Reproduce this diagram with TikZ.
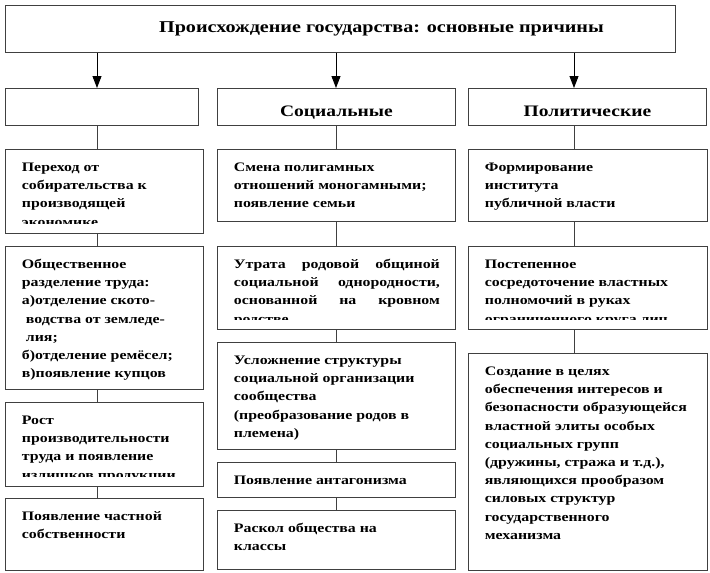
\documentclass[tikz,border=0pt]{standalone}
\usepackage{fontspec}
\setmainfont{Liberation Serif}[FakeStretch=1.22]
\usetikzlibrary{arrows.meta, calc}

\begin{document}
\begin{tikzpicture}[x=1pt, y=-1pt, >={Triangle[length=12pt, width=9pt]},
    box/.style={draw=black!75, line width=0.9pt, anchor=north west, inner sep=0pt},
    cell/.style={box, path picture={
        \clip ([yshift=9.5pt]path picture bounding box.south west) rectangle (path picture bounding box.north east);
        \node [anchor=north west, align=left, inner sep=0pt, draw=none, minimum width=0pt, minimum height=0pt, font=\fontsize{13pt}{18.2pt}\selectfont\bfseries]
            at ([xshift=16pt, yshift=-11.5pt]path picture bounding box.north west) {\rule{0pt}{10pt}#1};}},
    head/.style={box, font=\fontsize{16pt}{19pt}\selectfont\bfseries, text height=20pt, text depth=0pt},
    link/.style={draw=black!75, line width=0.9pt},
    feed/.style={->, draw=black, line width=0.9pt}]
    \useasboundingbox (0,0) rectangle (710,573);

    \node [box, minimum width=670pt, minimum height=47pt, font=\fontsize{16.5pt}{20pt}\selectfont\bfseries] (origin) at (5,5) {\hspace*{82pt}Происхождение государства: основные причины};

    \node [head, minimum width=193pt, minimum height=37pt] (lhead) at (5,88) {};
    \node [head, minimum width=238pt, minimum height=37pt] (shead) at (217,88) {Социальные};
    \node [head, minimum width=238pt, minimum height=37pt] (phead) at (468,88) {Политические};

    % left column
    \node [cell={Переход от\\собирательства к\\производящей\\экономике}, minimum width=198pt, minimum height=84pt] (econ1) at (5,149) {};
    \node [cell={Общественное\\разделение труда:\\а)отделение ското-\\\hspace*{4pt}водства от земледе-\\\hspace*{4pt}лия;\\б)отделение ремёсел;\\в)появление купцов}, minimum width=198pt, minimum height=143pt] (econ2) at (5,246) {};
    \node [cell={Рост\\производительности\\труда и появление\\излишков продукции}, minimum width=198pt, minimum height=84pt] (econ3) at (5,402) {};
    \node [cell={Появление частной\\собственности}, minimum width=198pt, minimum height=72pt] (econ4) at (5,498) {};

    % middle column
    \node [cell={Смена полигамных\\отношений моногамными;\\появление семьи}, minimum width=238pt, minimum height=72pt] (soc1) at (217,149) {};
    \node [cell={\parbox[t]{206pt}{Утрата родовой общиной\linebreak социальной однородности,\linebreak основанной на кровном\linebreak родстве}}, minimum width=238pt, minimum height=83pt] (soc2) at (217,246) {};
    \node [cell={Усложнение структуры\\социальной организации\\сообщества\\(преобразование родов в\\племена)}, minimum width=238pt, minimum height=107pt] (soc3) at (217,342) {};
    \node [cell={Появление антагонизма}, minimum width=238pt, minimum height=35pt] (soc4) at (217,462) {};
    \node [cell={Раскол общества на\\классы}, minimum width=238pt, minimum height=59pt] (soc5) at (217,510) {};

    % right column
    \node [cell={Формирование\\института\\публичной власти}, minimum width=239pt, minimum height=72pt] (pol1) at (468,149) {};
    \node [cell={Постепенное\\сосредоточение властных\\полномочий в руках\\ограниченного круга лиц}, minimum width=239pt, minimum height=83pt] (pol2) at (468,246) {};
    \node [cell={Создание в целях\\обеспечения интересов и\\безопасности образующейся\\властной элиты особых\\социальных групп\\(дружины, стража и т.д.),\\являющихся прообразом\\силовых структур\\государственного\\механизма}, minimum width=239pt, minimum height=217pt] (pol3) at (468,353) {};

    \coordinate (ecol) at (97,0);
    \coordinate (scol) at (336,0);
    \coordinate (pcol) at (574,0);

    \draw [feed] (origin.south -| ecol) -- (lhead.north -| ecol);
    \draw [feed] (origin.south -| scol) -- (shead.north -| scol);
    \draw [feed] (origin.south -| pcol) -- (phead.north -| pcol);

    \draw [link] (lhead.south -| ecol) -- (econ1.north -| ecol);
    \draw [link] (econ1.south -| ecol) -- (econ2.north -| ecol);
    \draw [link] (econ2.south -| ecol) -- (econ3.north -| ecol);
    \draw [link] (econ3.south -| ecol) -- (econ4.north -| ecol);

    \draw [link] (shead.south -| scol) -- (soc1.north -| scol);
    \draw [link] (soc1.south -| scol) -- (soc2.north -| scol);
    \draw [link] (soc2.south -| scol) -- (soc3.north -| scol);
    \draw [link] (soc3.south -| scol) -- (soc4.north -| scol);
    \draw [link] (soc4.south -| scol) -- (soc5.north -| scol);

    \draw [link] (phead.south -| pcol) -- (pol1.north -| pcol);
    \draw [link] (pol1.south -| pcol) -- (pol2.north -| pcol);
    \draw [link] (pol2.south -| pcol) -- (pol3.north -| pcol);
\end{tikzpicture}
\end{document}
